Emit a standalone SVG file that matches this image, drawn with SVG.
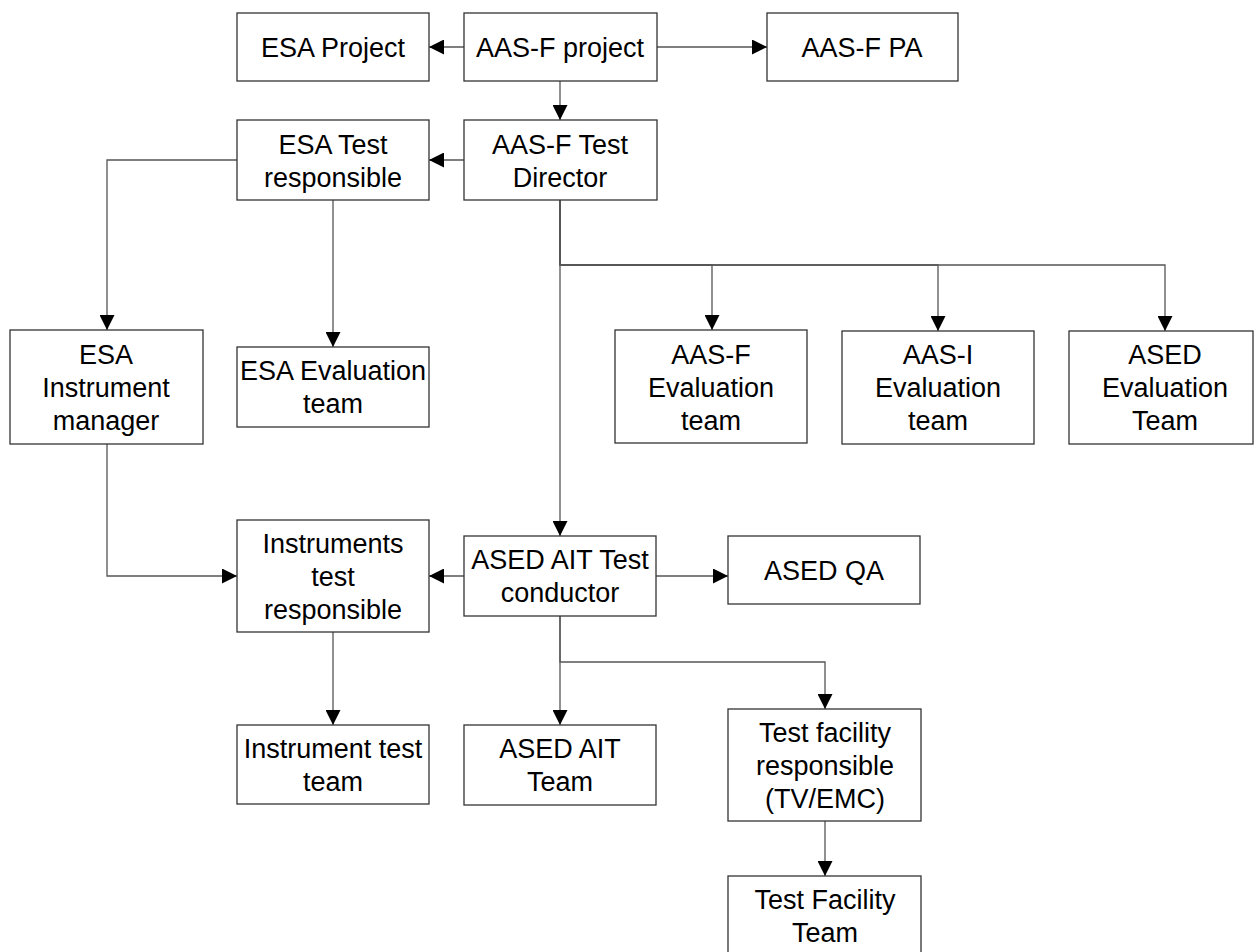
<svg xmlns="http://www.w3.org/2000/svg" width="1254" height="952" viewBox="0 0 1254 952">
<style>
.box{fill:#fff;stroke:#333;stroke-width:1.3}
.t{font-family:"Liberation Sans",Arial,sans-serif;font-size:27px;fill:#000;text-anchor:middle}
.c{fill:none;stroke:#555;stroke-width:1.3}
.c.a{marker-end:url(#ah)}
</style>
<defs>
<marker id="ah" viewBox="0 0 15 15" refX="15" refY="7.5" markerWidth="15" markerHeight="15" markerUnits="userSpaceOnUse" orient="auto">
<path d="M0,0 L15,7.5 L0,15 z" fill="#000"/>
</marker>
</defs>
<rect width="1254" height="952" fill="#fff"/>
<g id="connectors">
<path class="c a" d="M464,47 L429,47"/>
<path class="c a" d="M657,47 L767,47"/>
<path class="c a" d="M560,81 L560,120"/>
<path class="c a" d="M464,160 L429,160"/>
<path class="c a" d="M237,160 L107,160 L107,330"/>
<path class="c a" d="M333,200 L333,347"/>
<path class="c a" d="M560,200 L560,536"/>
<path class="c a" d="M560,200 L560,265 L712,265 L712,330"/>
<path class="c a" d="M560,200 L560,265 L938,265 L938,331"/>
<path class="c a" d="M560,200 L560,265 L1165,265 L1165,331"/>
<path class="c a" d="M107,444 L107,576 L237,576"/>
<path class="c a" d="M464,576 L429,576"/>
<path class="c a" d="M656,576 L728,576"/>
<path class="c a" d="M333,632 L333,725"/>
<path class="c a" d="M560,616 L560,725"/>
<path class="c a" d="M560,616 L560,662 L825,662 L825,709"/>
<path class="c a" d="M825,821 L825,876"/>
</g>
<g id="esa-project"><rect class="box" x="237" y="13" width="192" height="68"/><text class="t" x="333" y="57">ESA Project</text></g>
<g id="aasf-project"><rect class="box" x="464" y="13" width="193" height="68"/><text class="t" x="560" y="57">AAS-F project</text></g>
<g id="aasf-pa"><rect class="box" x="767" y="13" width="191" height="68"/><text class="t" x="862" y="57">AAS-F PA</text></g>
<g id="esa-test-resp"><rect class="box" x="237" y="120" width="192" height="80"/><text class="t" x="333" y="154">ESA Test</text><text class="t" x="333" y="187">responsible</text></g>
<g id="aasf-test-director"><rect class="box" x="464" y="120" width="193" height="80"/><text class="t" x="560" y="154">AAS-F Test</text><text class="t" x="560" y="187">Director</text></g>
<g id="esa-instrument-manager"><rect class="box" x="10" y="330" width="193" height="114"/><text class="t" x="106" y="364">ESA</text><text class="t" x="106" y="397">Instrument</text><text class="t" x="106" y="430">manager</text></g>
<g id="esa-eval-team"><rect class="box" x="237" y="347" width="192" height="80"/><text class="t" x="333" y="380">ESA Evaluation</text><text class="t" x="333" y="413">team</text></g>
<g id="aasf-eval-team"><rect class="box" x="615" y="330" width="192" height="113"/><text class="t" x="711" y="364">AAS-F</text><text class="t" x="711" y="397">Evaluation</text><text class="t" x="711" y="430">team</text></g>
<g id="aasi-eval-team"><rect class="box" x="842" y="331" width="192" height="113"/><text class="t" x="938" y="364">AAS-I</text><text class="t" x="938" y="397">Evaluation</text><text class="t" x="938" y="430">team</text></g>
<g id="ased-eval-team"><rect class="box" x="1069" y="331" width="184" height="113"/><text class="t" x="1165" y="364">ASED</text><text class="t" x="1165" y="397">Evaluation</text><text class="t" x="1165" y="430">Team</text></g>
<g id="instruments-test-resp"><rect class="box" x="237" y="520" width="192" height="112"/><text class="t" x="333" y="553">Instruments</text><text class="t" x="333" y="586">test</text><text class="t" x="333" y="619">responsible</text></g>
<g id="ased-ait-conductor"><rect class="box" x="464" y="536" width="192" height="80"/><text class="t" x="560" y="569">ASED AIT Test</text><text class="t" x="560" y="602">conductor</text></g>
<g id="ased-qa"><rect class="box" x="728" y="536" width="192" height="68"/><text class="t" x="824" y="580">ASED QA</text></g>
<g id="instrument-test-team"><rect class="box" x="237" y="725" width="192" height="79"/><text class="t" x="333" y="758">Instrument test</text><text class="t" x="333" y="791">team</text></g>
<g id="ased-ait-team"><rect class="box" x="464" y="725" width="192" height="80"/><text class="t" x="560" y="758">ASED AIT</text><text class="t" x="560" y="791">Team</text></g>
<g id="test-facility-resp"><rect class="box" x="728" y="709" width="193" height="112"/><text class="t" x="825" y="742">Test facility</text><text class="t" x="825" y="775">responsible</text><text class="t" x="825" y="808">(TV/EMC)</text></g>
<g id="test-facility-team"><rect class="box" x="728" y="876" width="193" height="80"/><text class="t" x="825" y="909">Test Facility</text><text class="t" x="825" y="942">Team</text></g>
</svg>
